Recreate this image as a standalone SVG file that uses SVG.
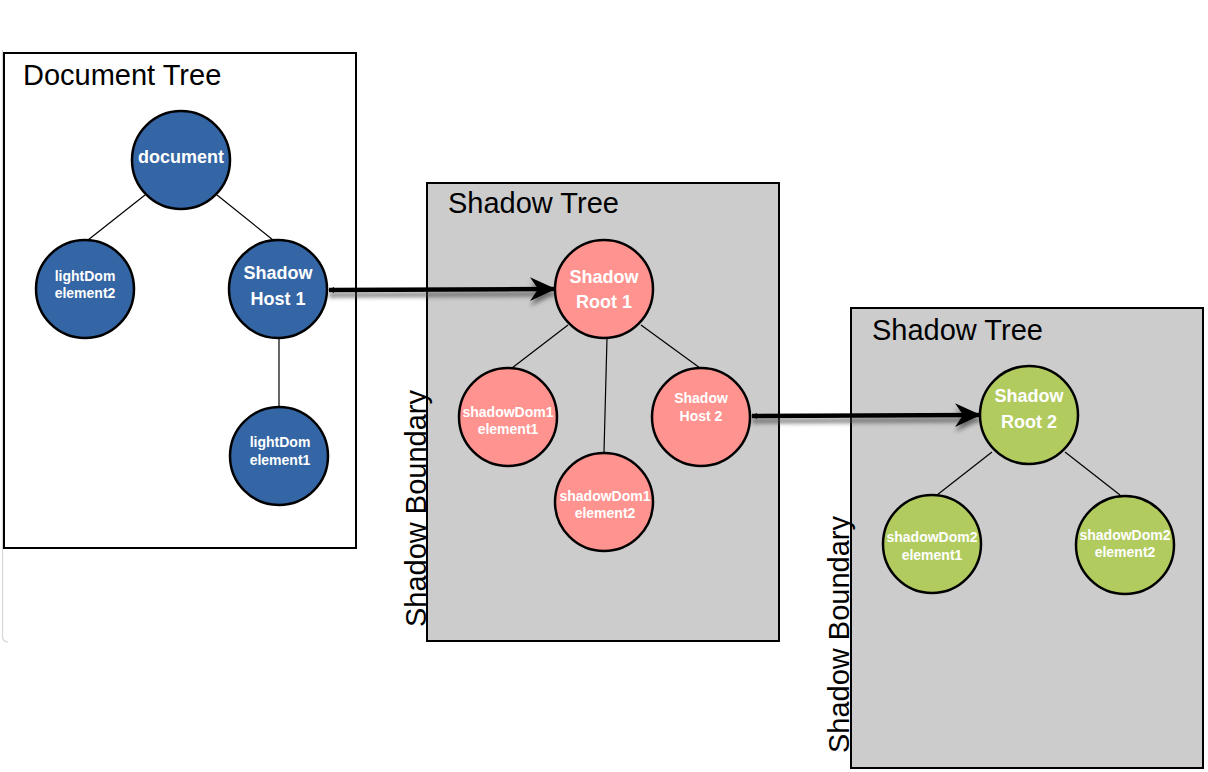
<svg xmlns="http://www.w3.org/2000/svg" width="1208" height="772" viewBox="0 0 1208 772">
<style>
  .title { font-family: "Liberation Sans", Arial, sans-serif; font-size: 29px; fill: #000; }
  .box { stroke: #000; stroke-width: 2; }
  .node { stroke: #000; stroke-width: 2.5; }
  .blue { fill: #3465a4; }
  .pink { fill: #ff938f; }
  .green { fill: #b1cb5f; }
  .lbl { font-family: "Liberation Sans", Arial, sans-serif; font-weight: bold; fill: #fff; text-anchor: middle; }
  .big { font-size: 18px; }
  .small { font-size: 14px; }
  .edge { stroke: #000; stroke-width: 1.2; fill: none; }
  .ref { stroke: #000; stroke-width: 4.5; fill: none; marker-end: url(#head); marker-start: url(#tail); }
</style>
<defs>
  <marker id="head" markerUnits="userSpaceOnUse" viewBox="0 0 26 26" refX="25" refY="13" markerWidth="26" markerHeight="26" orient="auto">
    <path d="M0,1 L26,13 L0,25 L8,13 Z" fill="#000"/>
  </marker>
  <marker id="tail" markerUnits="userSpaceOnUse" viewBox="0 0 8 8" refX="1" refY="4" markerWidth="8" markerHeight="8" orient="auto">
    <path d="M0,4 L6,1 L6,7 Z" fill="#000"/>
  </marker>
  <filter id="shadow" filterUnits="userSpaceOnUse" x="0" y="0" width="1208" height="772">
    <feDropShadow dx="0" dy="5" stdDeviation="2.2" flood-color="#444" flood-opacity="0.7"/>
  </filter>
</defs>
<rect width="1208" height="772" fill="#fff"/>
<path d="M2.5,50 L2.5,636 Q2.5,642 8,642" fill="none" stroke="#d6d6d6" stroke-width="1.2"/>

<g id="document-tree">
  <rect class="box" x="4" y="53" width="352" height="495" fill="#fff"/>
  <text class="title" x="23" y="85">Document Tree</text>
</g>
<g id="shadow-tree-1">
  <rect class="box" x="427" y="183" width="352" height="458" fill="#cccccc"/>
  <text class="title" x="448" y="213">Shadow Tree</text>
  <text class="title" transform="translate(425.5,627) rotate(-90)">Shadow Boundary</text>
</g>
<g id="shadow-tree-2">
  <rect class="box" x="851" y="308" width="352" height="460" fill="#cccccc"/>
  <text class="title" x="872" y="340">Shadow Tree</text>
  <text class="title" transform="translate(849,753) rotate(-90)">Shadow Boundary</text>
</g>

<g id="connectors">
  <line class="edge" x1="145" y1="195" x2="88" y2="240"/>
  <line class="edge" x1="217" y1="195" x2="273" y2="240"/>
  <line class="edge" x1="279" y1="337" x2="279" y2="407"/>
  <line class="edge" x1="568" y1="325" x2="512" y2="368"/>
  <line class="edge" x1="607" y1="338" x2="604" y2="452"/>
  <line class="edge" x1="641" y1="325" x2="700" y2="368"/>
  <line class="edge" x1="992" y1="452" x2="937" y2="495"/>
  <line class="edge" x1="1065" y1="452" x2="1120" y2="495"/>
  <g filter="url(#shadow)">
    <path class="ref" d="M329,290 L555,289"/>
    <path class="ref" d="M752,416 L980,415"/>
  </g>
</g>

<g id="node-document">
  <circle class="node blue" cx="181" cy="160" r="49"/>
  <text class="lbl big" x="181" y="163">document</text>
</g>
<g id="node-lightdom-element2">
  <circle class="node blue" cx="85" cy="289" r="49"/>
  <text class="lbl small" x="85" y="281">lightDom</text>
  <text class="lbl small" x="85" y="298">element2</text>
</g>
<g id="node-shadow-host-1">
  <circle class="node blue" cx="278" cy="289" r="49"/>
  <text class="lbl big" x="278" y="279">Shadow</text>
  <text class="lbl big" x="278" y="305">Host 1</text>
</g>
<g id="node-lightdom-element1">
  <circle class="node blue" cx="279" cy="456" r="49"/>
  <text class="lbl small" x="280" y="447">lightDom</text>
  <text class="lbl small" x="280" y="465">element1</text>
</g>
<g id="node-shadow-root-1">
  <circle class="node pink" cx="604" cy="289" r="49"/>
  <text class="lbl big" x="604" y="283">Shadow</text>
  <text class="lbl big" x="604" y="308">Root 1</text>
</g>
<g id="node-shadowdom1-element1">
  <circle class="node pink" cx="508" cy="417" r="49"/>
  <text class="lbl small" x="508" y="417">shadowDom1</text>
  <text class="lbl small" x="508" y="434">element1</text>
</g>
<g id="node-shadowdom1-element2">
  <circle class="node pink" cx="604" cy="502" r="49"/>
  <text class="lbl small" x="605" y="501">shadowDom1</text>
  <text class="lbl small" x="605" y="518">element2</text>
</g>
<g id="node-shadow-host-2">
  <circle class="node pink" cx="701" cy="417" r="49"/>
  <text class="lbl small" x="701" y="403">Shadow</text>
  <text class="lbl small" x="701" y="421">Host 2</text>
</g>
<g id="node-shadow-root-2">
  <circle class="node green" cx="1029" cy="415" r="49"/>
  <text class="lbl big" x="1029" y="402">Shadow</text>
  <text class="lbl big" x="1029" y="428">Root 2</text>
</g>
<g id="node-shadowdom2-element1">
  <circle class="node green" cx="932" cy="544" r="49"/>
  <text class="lbl small" x="932" y="542">shadowDom2</text>
  <text class="lbl small" x="932" y="560">element1</text>
</g>
<g id="node-shadowdom2-element2">
  <circle class="node green" cx="1125" cy="545" r="49"/>
  <text class="lbl small" x="1125" y="540">shadowDom2</text>
  <text class="lbl small" x="1125" y="557">element2</text>
</g>
</svg>
